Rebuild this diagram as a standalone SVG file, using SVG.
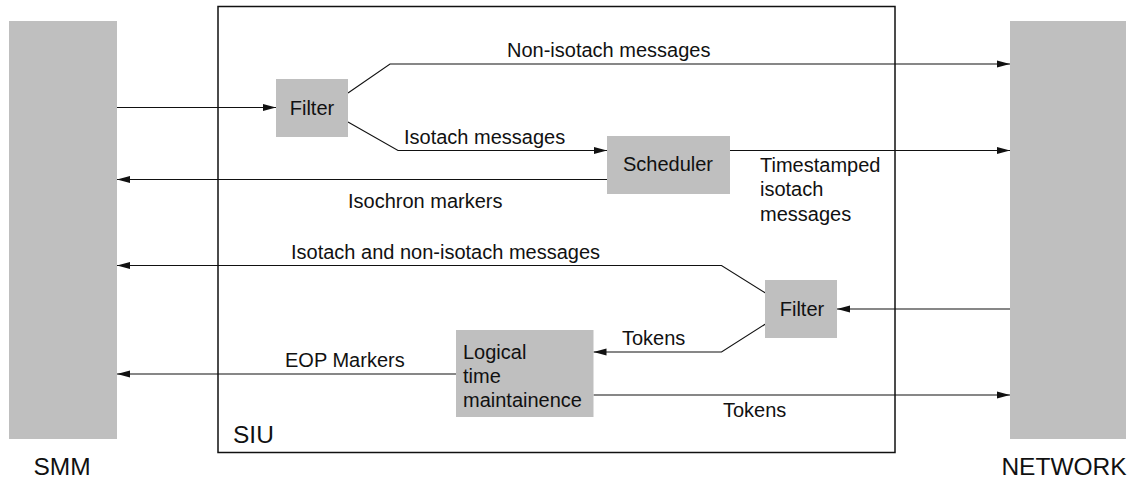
<svg xmlns="http://www.w3.org/2000/svg" width="1145" height="480" viewBox="0 0 1145 480">
<style>
  .bar { fill: #bfbfbf; }
  .box { fill: #bfbfbf; }
  .frame { fill: none; stroke: #111; stroke-width: 1.5; }
  .t { font-family: "Liberation Sans", Arial, Helvetica, sans-serif; font-size: 20px; fill: #111; }
  .big { font-family: "Liberation Sans", Arial, Helvetica, sans-serif; font-size: 24.5px; fill: #111; }
  .c { fill: none; stroke: #111; stroke-width: 1.1; }
  .a { marker-end: url(#arr); }
</style>
<defs>
  <marker id="arr" markerUnits="userSpaceOnUse" markerWidth="14" markerHeight="8" refX="13" refY="4" orient="auto">
    <path d="M0,0.5 L13,4 L0,7.5 z" fill="#111"/>
  </marker>
</defs>
<rect width="1145" height="480" fill="#fff"/>

<g id="smm">
  <rect class="bar" x="9" y="21" width="108" height="418"/>
  <text class="big" x="62" y="475" text-anchor="middle">SMM</text>
</g>
<g id="network">
  <rect class="bar" x="1010" y="21" width="116" height="418"/>
  <text class="big" x="1064" y="475" text-anchor="middle">NETWORK</text>
</g>
<g id="siu">
  <rect class="frame" x="218" y="6.5" width="677" height="446"/>
  <text class="big" x="233" y="443">SIU</text>
</g>

<g id="connectors">
  <line class="c a" x1="117" y1="107.5" x2="276" y2="107.5"/>
  <polyline class="c a" points="348,93 390,64 1010,64"/>
  <polyline class="c a" points="348,122 398,150.5 607,150.5"/>
  <line class="c a" x1="730" y1="150.5" x2="1010" y2="150.5"/>
  <line class="c a" x1="607" y1="179.5" x2="117" y2="179.5"/>
  <polyline class="c a" points="765.5,293 721.5,265.5 117,265.5"/>
  <line class="c a" x1="1010" y1="309" x2="837" y2="309"/>
  <polyline class="c a" points="765.5,324 721.5,352 593.5,352"/>
  <line class="c a" x1="456" y1="374" x2="117" y2="374"/>
  <line class="c a" x1="593.5" y1="395" x2="1010" y2="395"/>

  <text class="t" x="507" y="57">Non-isotach messages</text>
  <text class="t" x="404" y="144">Isotach messages</text>
  <text class="t" x="348" y="208">Isochron markers</text>
  <text class="t" x="760" y="171.5">Timestamped</text>
  <text class="t" x="760" y="196">isotach</text>
  <text class="t" x="760" y="220.5">messages</text>
  <text class="t" x="291" y="259">Isotach and non-isotach messages</text>
  <text class="t" x="622" y="345">Tokens</text>
  <text class="t" x="285" y="366.5">EOP Markers</text>
  <text class="t" x="723" y="416.5">Tokens</text>
</g>

<g id="filter1">
  <rect class="box" x="276" y="79" width="72" height="58"/>
  <text class="t" x="312" y="115" text-anchor="middle">Filter</text>
</g>
<g id="scheduler">
  <rect class="box" x="607" y="136" width="123" height="58"/>
  <text class="t" x="668" y="171" text-anchor="middle">Scheduler</text>
</g>
<g id="filter2">
  <rect class="box" x="765" y="280" width="72" height="58"/>
  <text class="t" x="802" y="316" text-anchor="middle">Filter</text>
</g>
<g id="logical">
  <rect class="box" x="456" y="330" width="137.5" height="87"/>
  <text class="t" x="463" y="359">Logical</text>
  <text class="t" x="463" y="383">time</text>
  <text class="t" x="463" y="407">maintainence</text>
</g>
</svg>
